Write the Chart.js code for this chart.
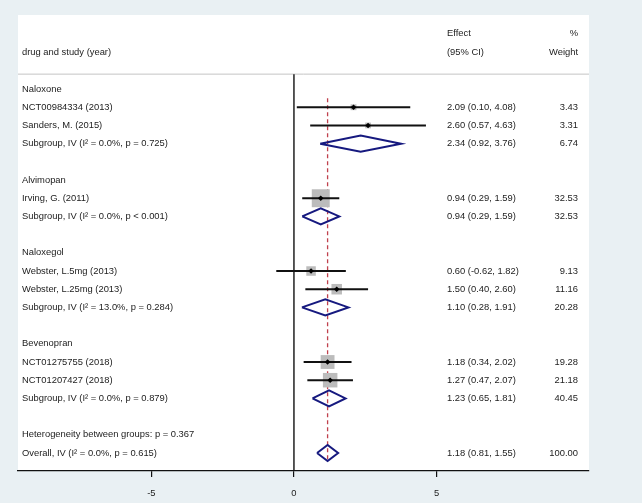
<!DOCTYPE html>
<html>
<head>
<meta charset="utf-8">
<script src="https://cdn.jsdelivr.net/npm/chart.js@4.4.0/dist/chart.umd.min.js"></script>
<style>
html, body { margin: 0; padding: 0; background: #e9f0f3; }
#wrap { width: 642px; height: 503px; }
</style>
</head>
<body>
<div id="wrap"><canvas id="myChart" width="642" height="503"></canvas></div>
<script>
// rows are counted from the first group header (row 0) downwards
var groupNames = ['Naloxone', 'Alvimopan', 'Naloxegol', 'Bevenopran'];
var groupRows = [0, 5, 9, 14];

var studyNames = ['NCT00984334 (2013)', 'Sanders, M. (2015)', 'Irving, G. (2011)',
    'Webster, L.5mg (2013)', 'Webster, L.25mg (2013)', 'NCT01275755 (2018)', 'NCT01207427 (2018)'];
var studyRows = [1, 2, 6, 10, 11, 15, 16];
var studyEffect = [2.09, 2.60, 0.94, 0.60, 1.50, 1.18, 1.27];
var studyLow = [0.10, 0.57, 0.29, -0.62, 0.40, 0.34, 0.47];
var studyHigh = [4.08, 4.63, 1.59, 1.82, 2.60, 2.02, 2.07];
var studyWeight = [3.43, 3.31, 32.53, 9.13, 11.16, 19.28, 21.18];

var poolNames = ['Subgroup, IV (I\u00B2 = 0.0%, p = 0.725)', 'Subgroup, IV (I\u00B2 = 0.0%, p < 0.001)',
    'Subgroup, IV (I\u00B2 = 13.0%, p = 0.284)', 'Subgroup, IV (I\u00B2 = 0.0%, p = 0.879)',
    'Overall, IV (I\u00B2 = 0.0%, p = 0.615)'];
var poolRows = [3, 7, 12, 17, 20];
var poolEffect = [2.34, 0.94, 1.10, 1.23, 1.18];
var poolLow = [0.92, 0.29, 0.28, 0.65, 0.81];
var poolHigh = [3.76, 1.59, 1.91, 1.81, 1.55];
var poolWeight = [6.74, 32.53, 20.28, 40.45, 100.00];

var hetText = 'Heterogeneity between groups: p = 0.367';
var hetRow = 19;

var xTicks = [-5, 0, 5];

var X_MIN = -9.68, X_MAX = 10.35;
var Y_MIN = -4.07, Y_MAX = 20.99;
var HEAD_LINE = -0.82;
var TEXT_FONT = '9.4px "Liberation Sans", Arial, sans-serif';

function fmt(v) { return v.toFixed(2); }

var datasets = [];

// header separator
datasets.push({
    data: [{x: X_MIN, y: HEAD_LINE}, {x: X_MAX, y: HEAD_LINE}],
    showLine: true, borderColor: '#c4c4c4', borderWidth: 1, pointRadius: 0, order: 5
});
// line of no effect
datasets.push({
    data: [{x: 0, y: HEAD_LINE}, {x: 0, y: Y_MAX}],
    showLine: true, borderColor: '#111', borderWidth: 1.4, pointRadius: 0, order: 4
});
// overall effect line
datasets.push({
    data: [{x: poolEffect[4], y: 0.5}, {x: poolEffect[4], y: poolRows[4] + 0.45}],
    showLine: true, borderColor: '#c0414d', borderWidth: 1.3, borderDash: [4, 3], pointRadius: 0, order: 4
});
// weight boxes
datasets.push({
    data: studyRows.map(function(r, i) { return {x: studyEffect[i], y: r}; }),
    pointStyle: 'rect',
    pointRadius: studyWeight.map(function(w) { return 12.7 * Math.sqrt(w / 32.53); }),
    backgroundColor: '#bcbcbc', borderWidth: 0, order: 3
});
// confidence intervals
studyRows.forEach(function(r, i) {
    datasets.push({
        data: [{x: studyLow[i], y: r}, {x: studyHigh[i], y: r}],
        showLine: true, borderColor: '#111', borderWidth: 1.9, pointRadius: 0, order: 2
    });
});
// point estimates
datasets.push({
    data: studyRows.map(function(r, i) { return {x: studyEffect[i], y: r}; }),
    pointStyle: 'rectRot', pointRadius: 2.8,
    backgroundColor: '#000', borderColor: '#000', borderWidth: 0, order: 1
});
// pooled diamonds
poolRows.forEach(function(r, i) {
    var h = 0.44;
    datasets.push({
        data: [{x: poolLow[i], y: r}, {x: poolEffect[i], y: r - h}, {x: poolHigh[i], y: r},
               {x: poolEffect[i], y: r + h}, {x: poolLow[i], y: r}],
        showLine: true, borderColor: '#16197f', borderWidth: 2, pointRadius: 0, order: 1
    });
});

var background = {
    id: 'background',
    beforeDraw: function(chart) {
        var ctx = chart.ctx, a = chart.chartArea;
        ctx.save();
        ctx.fillStyle = '#e9f0f3';
        ctx.fillRect(0, 0, chart.width, chart.height);
        ctx.fillStyle = '#ffffff';
        ctx.fillRect(a.left, a.top, a.right - a.left, a.bottom - a.top);
        ctx.restore();
    }
};

var textColumns = {
    id: 'textColumns',
    afterDatasetsDraw: function(chart) {
        var ctx = chart.ctx, a = chart.chartArea, ys = chart.scales.y;
        var leftX = a.left + 4, effX = 447, wX = 578;
        ctx.save();
        ctx.font = TEXT_FONT;
        ctx.fillStyle = '#222';
        ctx.textBaseline = 'middle';
        function put(txt, x, row, align) {
            ctx.textAlign = align || 'left';
            ctx.fillText(txt, x, ys.getPixelForValue(row));
        }
        put('drug and study (year)', leftX, -2.03);
        put('Effect', effX, -3.05);
        put('(95% CI)', effX, -2.03);
        put('%', wX, -3.05, 'right');
        put('Weight', wX, -2.03, 'right');
        groupNames.forEach(function(n, i) { put(n, leftX, groupRows[i]); });
        studyNames.forEach(function(n, i) {
            put(n, leftX, studyRows[i]);
            put(fmt(studyEffect[i]) + ' (' + fmt(studyLow[i]) + ', ' + fmt(studyHigh[i]) + ')', effX, studyRows[i]);
            put(fmt(studyWeight[i]), wX, studyRows[i], 'right');
        });
        poolNames.forEach(function(n, i) {
            put(n, leftX, poolRows[i]);
            put(fmt(poolEffect[i]) + ' (' + fmt(poolLow[i]) + ', ' + fmt(poolHigh[i]) + ')', effX, poolRows[i]);
            put(fmt(poolWeight[i]), wX, poolRows[i], 'right');
        });
        put(hetText, leftX, hetRow);
        ctx.restore();
    }
};

var ctx = document.getElementById('myChart').getContext('2d');
var myChart = new Chart(ctx, {
    type: 'scatter',
    data: { datasets: datasets },
    options: {
        responsive: false,
        animation: false,
        layout: { padding: { left: 18, right: 53, top: 15, bottom: 0 } },
        plugins: { legend: { display: false }, tooltip: { enabled: false } },
        elements: { line: { tension: 0 } },
        scales: {
            x: {
                type: 'linear', min: X_MIN, max: X_MAX,
                afterBuildTicks: function(scale) {
                    scale.ticks = xTicks.map(function(v) { return {value: v}; });
                },
                afterFit: function(scale) { scale.height = 32; },
                border: { display: true, color: '#111', width: 1.2 },
                grid: { drawOnChartArea: false, color: '#111', tickLength: 6, lineWidth: 1.2 },
                ticks: { color: '#222', padding: 11, font: { family: '"Liberation Sans", Arial, sans-serif', size: 9.4 } }
            },
            y: {
                type: 'linear', min: Y_MIN, max: Y_MAX, reverse: true, display: false
            }
        }
    },
    plugins: [background, textColumns]
});
</script>
</body>
</html>
